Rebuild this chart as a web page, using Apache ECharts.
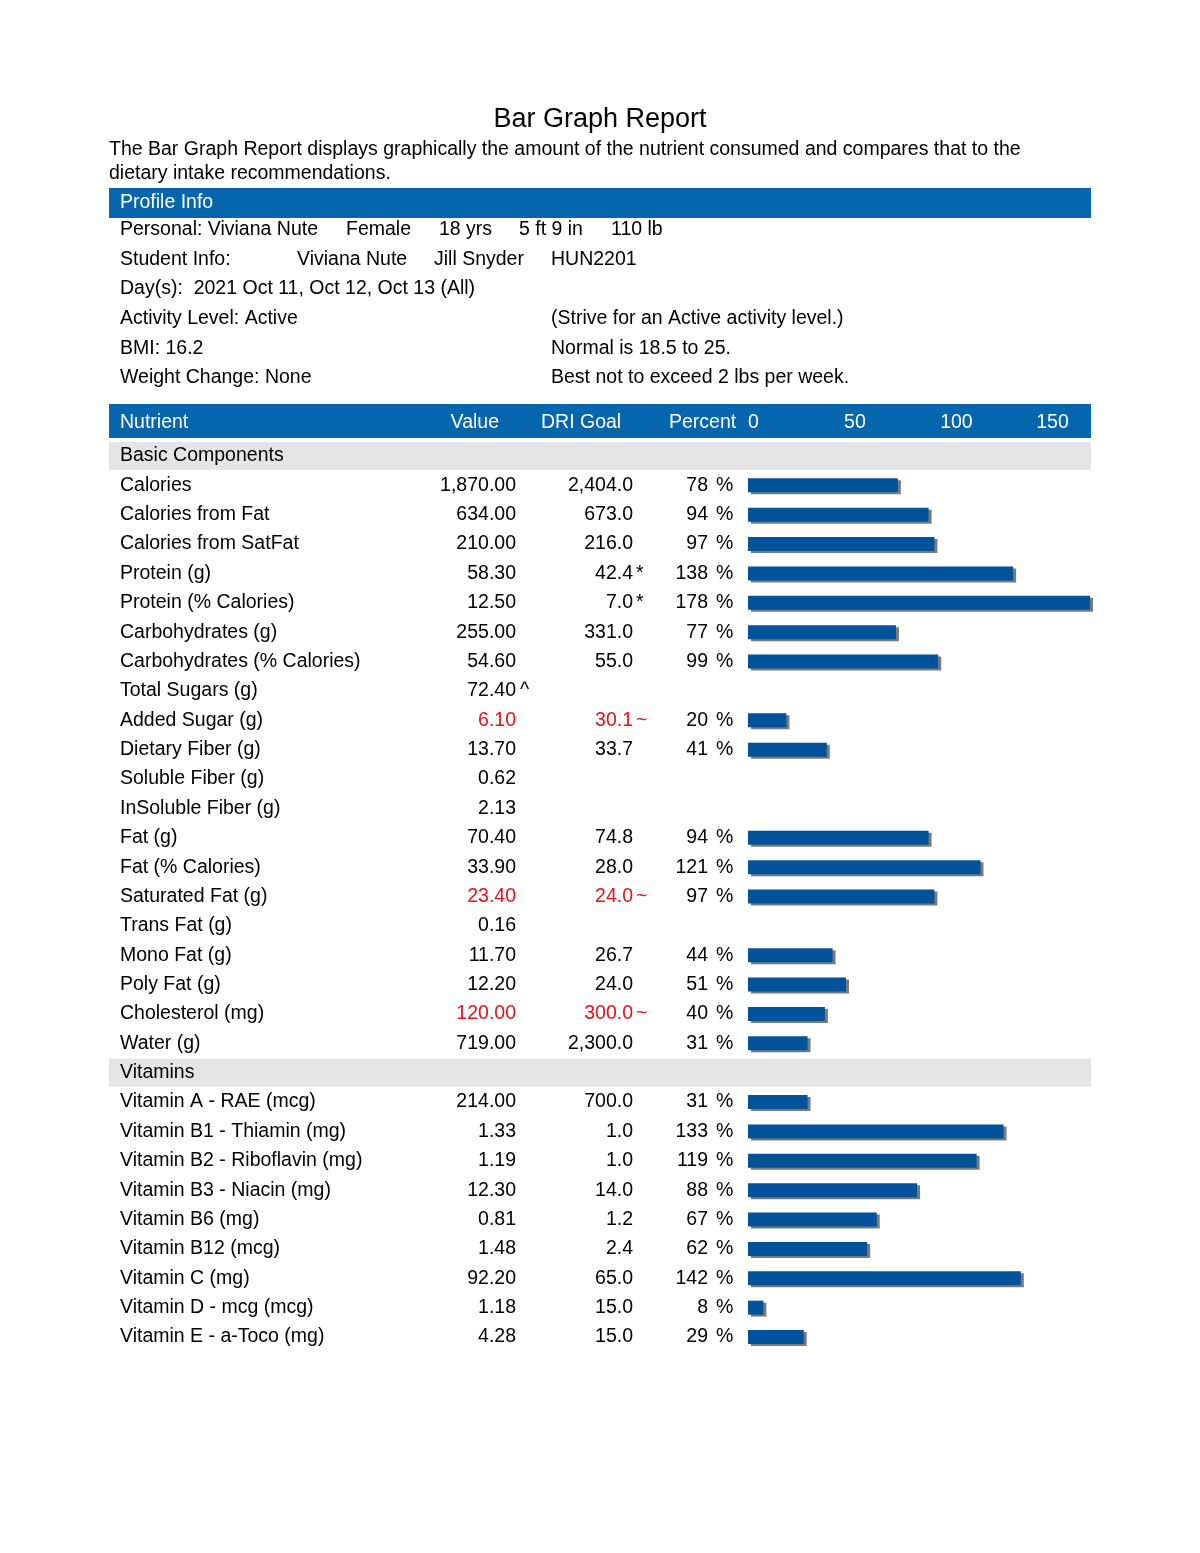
<!DOCTYPE html>
<html><head><meta charset="utf-8">
<script src="https://cdn.jsdelivr.net/npm/echarts@6/dist/echarts.min.js"></script>
<style>html,body{margin:0;padding:0;background:#fff}#c{width:1200px;height:1553px}</style>
</head><body><div id="c"></div>
<script>
// ---------- data ----------
const nutrients = ["Basic Components","Calories","Calories from Fat","Calories from SatFat","Protein (g)","Protein (% Calories)","Carbohydrates (g)","Carbohydrates (% Calories)","Total Sugars (g)","Added Sugar (g)","Dietary Fiber (g)","Soluble Fiber (g)","InSoluble Fiber (g)","Fat (g)","Fat (% Calories)","Saturated Fat (g)","Trans Fat (g)","Mono Fat (g)","Poly Fat (g)","Cholesterol (mg)","Water (g)","Vitamins","Vitamin A - RAE (mcg)","Vitamin B1 - Thiamin (mg)","Vitamin B2 - Riboflavin (mg)","Vitamin B3 - Niacin (mg)","Vitamin B6 (mg)","Vitamin B12 (mcg)","Vitamin C (mg)","Vitamin D - mcg (mcg)","Vitamin E - a-Toco (mg)"];
const sectionRows = ["Basic Components","Vitamins"];
const values = ["","1,870.00","634.00","210.00","58.30","12.50","255.00","54.60","72.40","6.10","13.70","0.62","2.13","70.40","33.90","23.40","0.16","11.70","12.20","120.00","719.00","","214.00","1.33","1.19","12.30","0.81","1.48","92.20","1.18","4.28"];
const valueMarks = ["","","","","","","","","^","","","","","","","","","","","","","","","","","","","","","",""];
const driGoals = ["","2,404.0","673.0","216.0","42.4","7.0","331.0","55.0","","30.1","33.7","","","74.8","28.0","24.0","","26.7","24.0","300.0","2,300.0","","700.0","1.0","1.0","14.0","1.2","2.4","65.0","15.0","15.0"];
const driMarks = ["","","","","*","*","","","","~","","","","","","~","","","","~","","","","","","","","","","",""];
const percents = [null,78,94,97,138,178,77,99,null,20,41,null,null,94,121,97,null,44,51,40,31,null,31,133,119,88,67,62,142,8,29];
const flagged = ["Added Sugar (g)","Saturated Fat (g)","Cholesterol (mg)"];
const percentTicks = [0,50,100,150];

const profileRows = [
  [["Personal: Viviana Nute",120],["Female",346],["18 yrs",439],["5 ft 9 in",519],["110 lb",611]],
  [["Student Info:",120],["Viviana Nute",297],["Jill Snyder",434],["HUN2201",551]],
  [["Day(s):  2021 Oct 11, Oct 12, Oct 13 (All)",120]],
  [["Activity Level: Active",120],["(Strive for an Active activity level.)",551]],
  [["BMI: 16.2",120],["Normal is 18.5 to 25.",551]],
  [["Weight Change: None",120],["Best not to exceed 2 lbs per week.",551]]
];

// ---------- style ----------
const FONT = "'Liberation Sans', Arial, Helvetica, sans-serif";
const FS = 19.5;
const BLUE = '#0566ae';
const BAR = '#00529b';
const RED = '#e3141b';
const GRID_TOP = 441.3, GRID_BOTTOM = 201.3;

function txt(text, x, y, opts) {
  opts = opts || {};
  return {
    type: 'text', x: x, y: y, silent: true, z: 10,
    style: {
      text: text, fill: opts.fill || '#000',
      font: (opts.size || FS) + 'px ' + FONT,
      align: opts.align || 'left', textAlign: opts.align || 'left',
      verticalAlign: 'middle', textVerticalAlign: 'middle'
    }
  };
}

const graphics = [];
graphics.push(txt('Bar Graph Report', 600, 120, {size: 27, align: 'center'}));
graphics.push(txt('The Bar Graph Report displays graphically the amount of the nutrient consumed and compares that to the', 109, 150));
graphics.push(txt('dietary intake recommendations.', 109, 174));
graphics.push({type: 'rect', shape: {x: 109, y: 188, width: 982, height: 30}, style: {fill: BLUE}, z: -10, silent: true});
graphics.push(txt('Profile Info', 120, 203, {fill: '#fff'}));
const profileY = [230, 260, 289, 319, 349, 378];
profileRows.forEach((row, i) => row.forEach(p => graphics.push(txt(p[0], p[1], profileY[i]))));
graphics.push({type: 'rect', shape: {x: 109, y: 404, width: 982, height: 34}, style: {fill: BLUE}, z: -10, silent: true});
graphics.push(txt('Nutrient', 120, 423, {fill: '#fff'}));
graphics.push(txt('Value', 499, 423, {fill: '#fff', align: 'right'}));
graphics.push(txt('DRI Goal', 541, 423, {fill: '#fff'}));
graphics.push(txt('Percent', 669, 423, {fill: '#fff'}));

function isRed(i) { return flagged.indexOf(nutrients[i]) >= 0 ? RED : '#000'; }

function colAxis(list, margin, align, colorFn) {
  return {
    type: 'category', gridIndex: 0, inverse: true, data: nutrients, position: 'left',
    axisLine: {show: false}, axisTick: {show: false}, splitLine: {show: false},
    axisLabel: {
      interval: 0, margin: margin, align: align, fontSize: FS, fontFamily: FONT,
      color: colorFn || '#000',
      formatter: (v, i) => { const t = list[i]; return (t === null || t === undefined) ? '' : String(t); }
    }
  };
}

const yAxes = [
  colAxis(nutrients, 628, 'left'),
  colAxis(values, 232, 'right', (v, i) => isRed(i)),
  colAxis(valueMarks, 228, 'left', (v, i) => isRed(i)),
  colAxis(driGoals, 115, 'right', (v, i) => isRed(i)),
  colAxis(driMarks, 112, 'left', (v, i) => isRed(i)),
  colAxis(percents, 40, 'right'),
  colAxis(percents.map(p => p === null ? '' : '%'), 32, 'left'),
  {type: 'category', gridIndex: 1, inverse: true, data: nutrients, show: false}
];

const option = {
  animation: false,
  backgroundColor: '#fff',
  grid: [
    {left: 748, right: 110, top: GRID_TOP, bottom: GRID_BOTTOM},
    {left: 109, right: 109, top: GRID_TOP, bottom: GRID_BOTTOM}
  ],
  xAxis: [
    {type: 'value', gridIndex: 0, position: 'top', min: 0, max: 178, interval: 50, z: 20,
     axisLine: {show: false}, axisTick: {show: false}, splitLine: {show: false},
     axisLabel: {color: '#fff', fontSize: FS, fontFamily: FONT, align: 'left', margin: 9,
                 showMaxLabel: false,
                 formatter: v => percentTicks.indexOf(v) >= 0 ? String(v) : ''}},
    {type: 'value', gridIndex: 1, min: 0, max: 1, show: false}
  ],
  yAxis: yAxes,
  graphic: graphics,
  series: [
    {type: 'bar', xAxisIndex: 1, yAxisIndex: 7, silent: true, z: 0, barWidth: '96%',
     itemStyle: {color: '#e5e5e5'},
     data: nutrients.map(n => sectionRows.indexOf(n) >= 0 ? 1 : null)},
    {type: 'bar', xAxisIndex: 0, yAxisIndex: 0, z: 3, barWidth: 14,
     itemStyle: {color: BAR, shadowColor: '#7a7a7a', shadowOffsetX: 3, shadowOffsetY: 2, shadowBlur: 0},
     data: percents}
  ]
};
const chart = echarts.init(document.getElementById('c'), null, {renderer: 'canvas'});
chart.setOption(option);
</script>
</body></html>
